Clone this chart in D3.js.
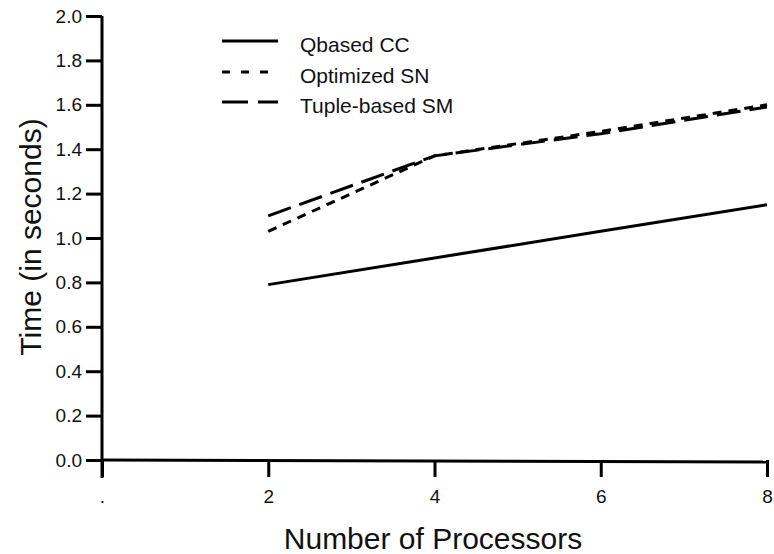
<!DOCTYPE html>
<html><head><meta charset="utf-8">
<script src="https://cdn.jsdelivr.net/npm/d3@7"></script>
<style>body{margin:0;background:#fff;} svg{display:block;font-family:"Liberation Sans",Arial,sans-serif;}</style>
</head><body>
<script>
const xValues = [2, 4, 6, 8];
const qbasedCC = [0.79, 0.91, 1.03, 1.15];
const optimizedSN = [1.03, 1.37, 1.48, 1.60];
const tupleBasedSM = [1.10, 1.37, 1.47, 1.59];
const seriesNames = ["Qbased CC", "Optimized SN", "Tuple-based SM"];
const xTicks = [0, 2, 4, 6, 8];
const xTickLabels = [".", "2", "4", "6", "8"];
const yTicks = [0, 0.2, 0.4, 0.6, 0.8, 1.0, 1.2, 1.4, 1.6, 1.8, 2.0];

const W = 774, H = 554;
const svg = d3.select("body").append("svg").attr("width", W).attr("height", H);
const x = d3.scaleLinear().domain([0, 8]).range([102, 767]);
const y = d3.scaleLinear().domain([0, 2]).range([460, 16]);

// y axis
const yAxis = svg.append("g").attr("transform", "translate(102,0)")
  .call(d3.axisLeft(y).tickValues(yTicks).tickFormat(d3.format(".1f")).tickSize(16).tickPadding(4));
yAxis.select(".domain").remove();
yAxis.selectAll(".tick line").attr("stroke", "#000").attr("stroke-width", 3);
yAxis.selectAll(".tick text").attr("font-size", 19).attr("fill", "#111").attr("font-family", "Liberation Sans, Arial, sans-serif");
svg.append("line").attr("x1", 102).attr("x2", 102).attr("y1", y(2)).attr("y2", 478)
  .attr("stroke", "#000").attr("stroke-width", 3);

// x axis
const xAxis = svg.append("g").attr("transform", "translate(0,460)")
  .call(d3.axisBottom(x).tickValues(xTicks).tickFormat((d, i) => xTickLabels[i]).tickSize(17).tickPadding(13));
xAxis.select(".domain").remove();
xAxis.selectAll(".tick line").attr("stroke", "#000").attr("stroke-width", 3);
xAxis.selectAll(".tick text").attr("font-size", 19).attr("fill", "#111").attr("font-family", "Liberation Sans, Arial, sans-serif");
svg.append("line").attr("x1", 102).attr("x2", 768).attr("y1", 460).attr("y2", 462)
  .attr("stroke", "#000").attr("stroke-width", 3);

// lines
const dashes = [null, "9,7", "24,9"];
const data = [qbasedCC, optimizedSN, tupleBasedSM];
const line = d3.line().x((d, i) => x(xValues[i])).y(d => y(d));
data.forEach((vals, k) => {
  svg.append("path").datum(vals).attr("d", line)
    .attr("fill", "none").attr("stroke", "#000").attr("stroke-width", 3)
    .attr("stroke-dasharray", dashes[k]);
});

// legend
const legY = [41, 72, 102];
const legDash = [null, "8,11", "26,10"];
seriesNames.forEach((name, k) => {
  svg.append("line").attr("x1", 222).attr("x2", 278).attr("y1", legY[k]).attr("y2", legY[k])
    .attr("stroke", "#000").attr("stroke-width", 3).attr("stroke-dasharray", legDash[k]);
  svg.append("text").attr("x", 300).attr("y", legY[k] + 11).attr("font-size", 21).attr("fill", "#111").text(name);
});

// axis titles
svg.append("text").attr("x", 433).attr("y", 549).attr("text-anchor", "middle")
  .attr("font-size", 30).attr("fill", "#111").text("Number of Processors");
svg.append("text").attr("transform", "translate(41,237) rotate(-90)").attr("text-anchor", "middle")
  .attr("font-size", 30).attr("fill", "#111").text("Time (in seconds)");
</script>
</body></html>
